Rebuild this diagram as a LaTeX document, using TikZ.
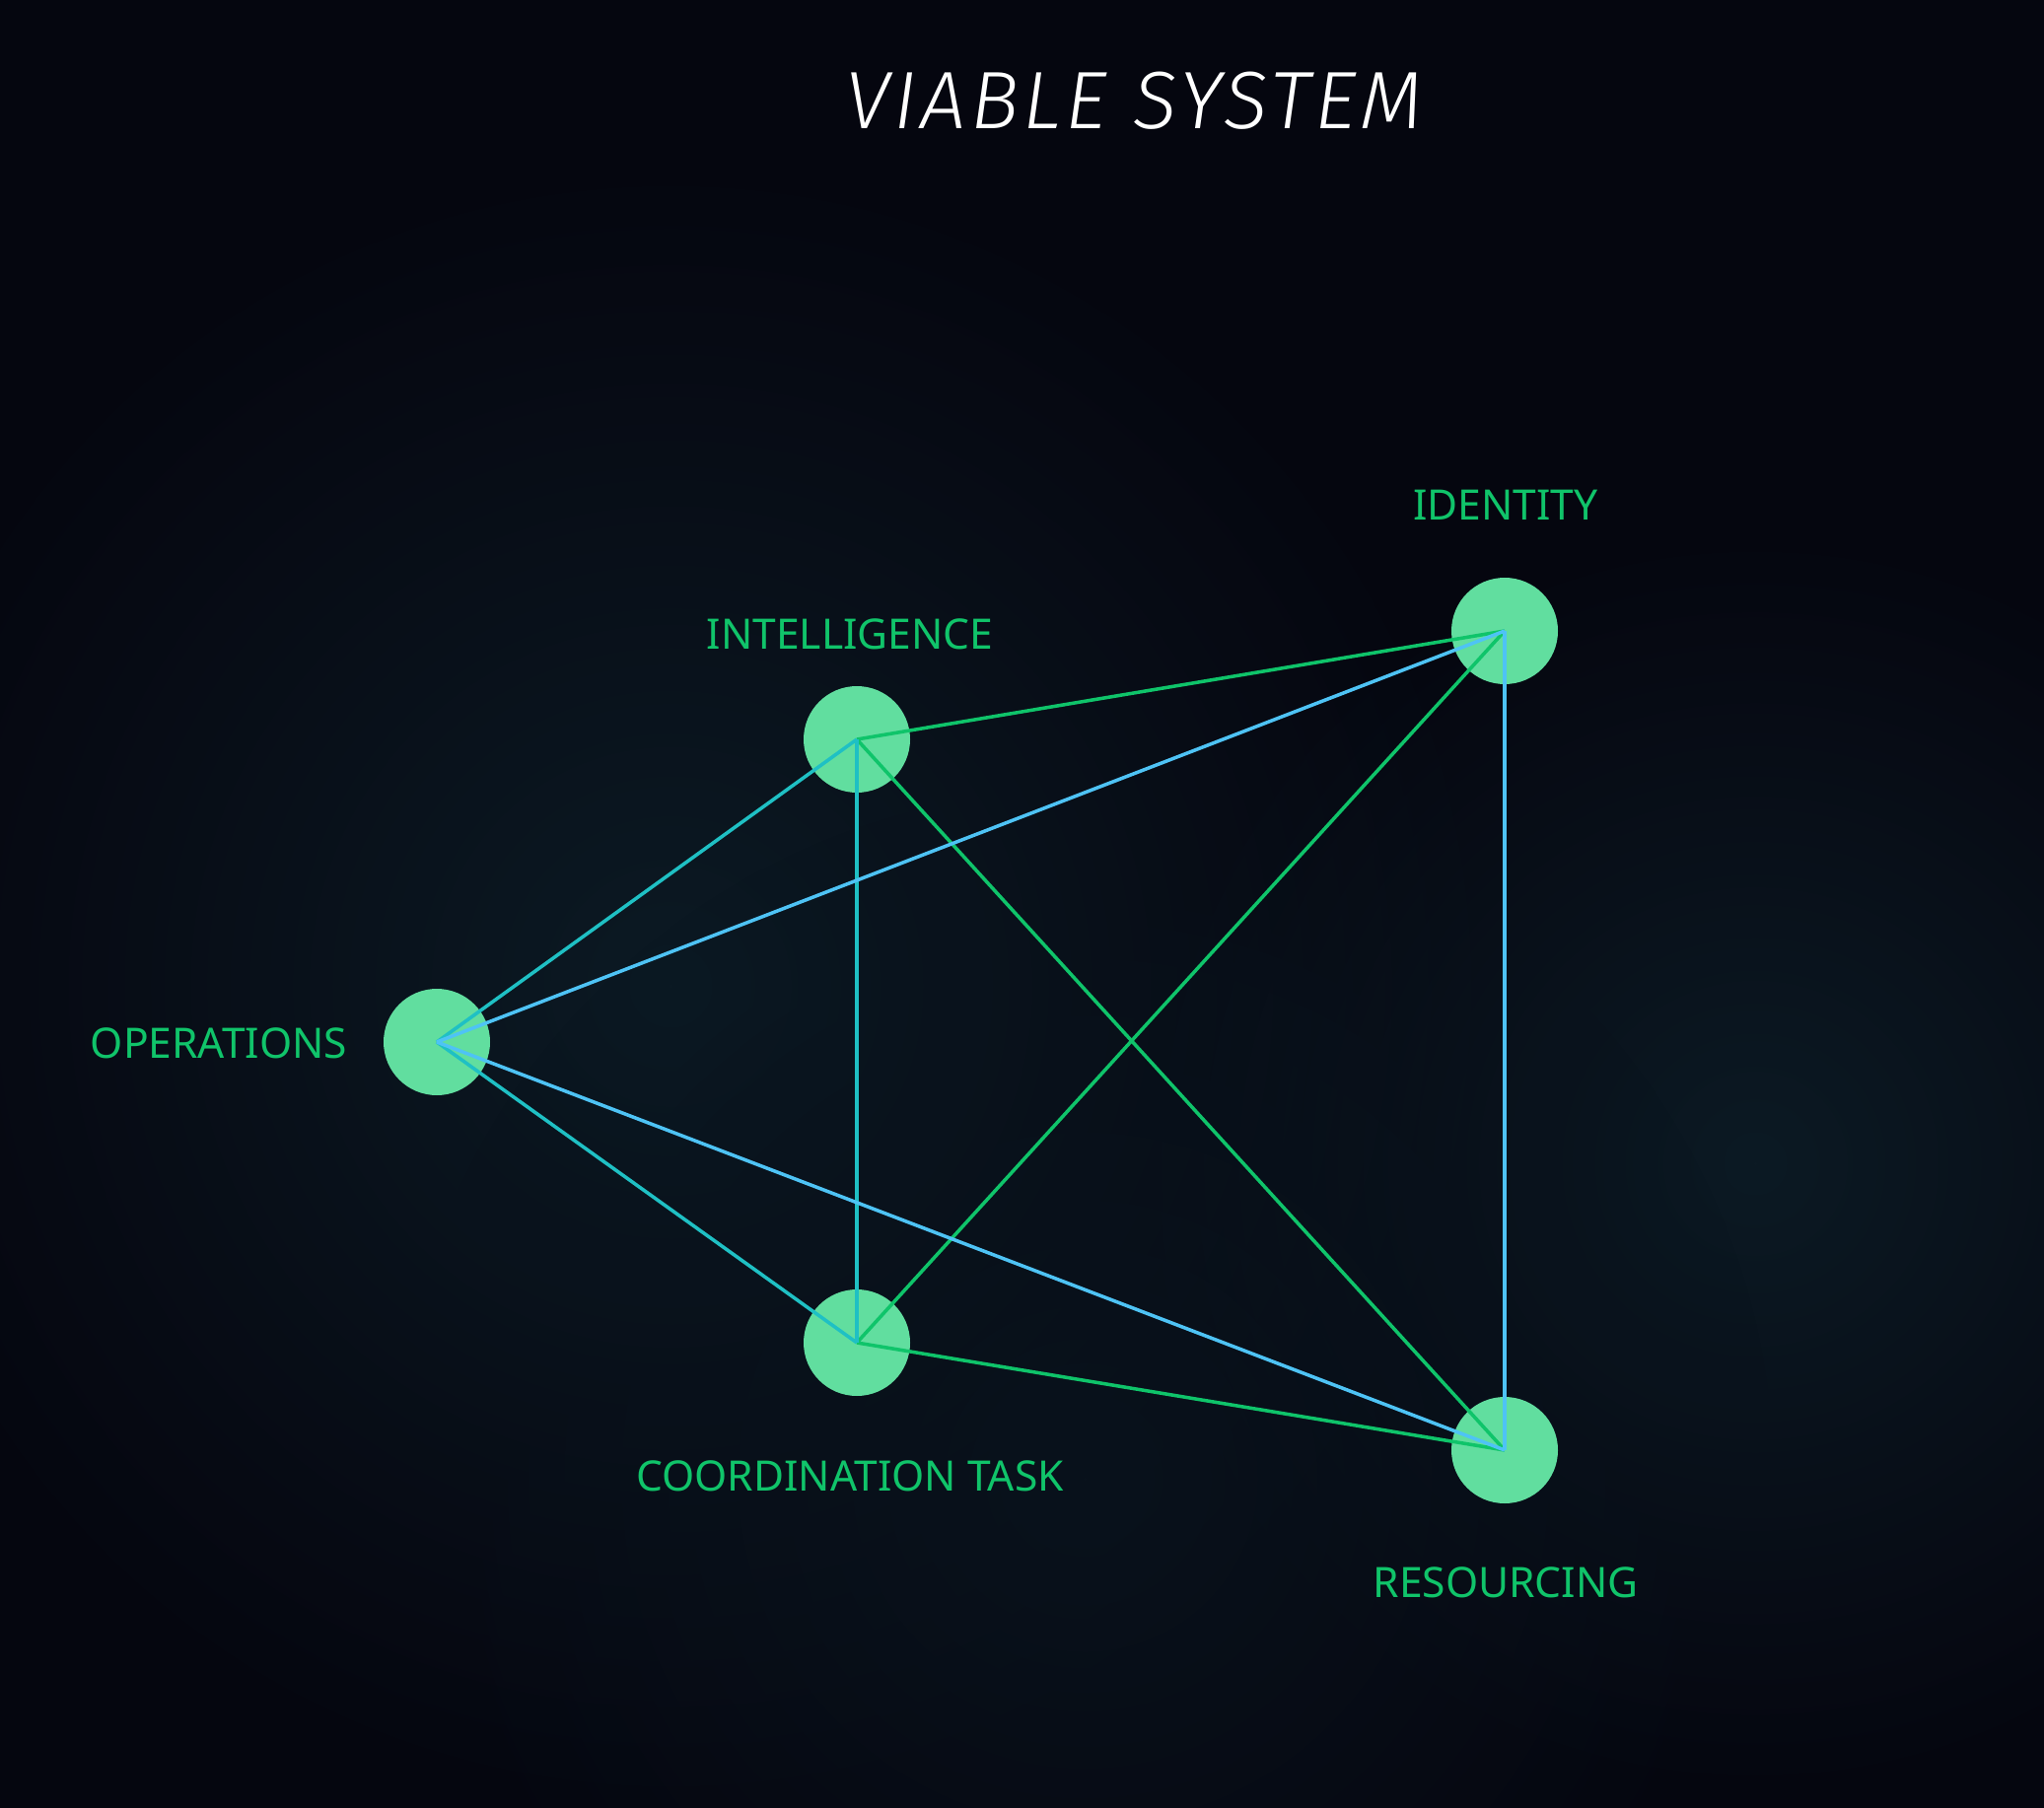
\documentclass[tikz,border=0pt]{standalone}
\usepackage{fontspec}
\usetikzlibrary{fadings}
\setmainfont{Noto Sans}
\newfontfamily\titlefont{Fira Sans}[UprightFont={* Light Italic}, LetterSpace=5]
\definecolor{bg}{HTML}{05060F}
\definecolor{glow}{HTML}{0C1A24}
\definecolor{nodefill}{HTML}{61DE9F}
\definecolor{lblgreen}{HTML}{10C46A}
\definecolor{lgreen}{HTML}{0FC46A}
\definecolor{lteal}{HTML}{1FC0C4}
\definecolor{lblue}{HTML}{4EC3F5}
\tikzfading[name=radfade, inner color=transparent!0, outer color=transparent!100]
\tikzset{
  dot/.style={circle, fill=nodefill, minimum size=108*0.01cm, inner sep=0pt},
  lbl/.style={text=lblgreen, font=\fontsize{12.1}{14}\selectfont, inner sep=0pt},
  edge/.style={line width=1pt},
  eg/.style={edge, draw=lgreen},
  et/.style={edge, draw=lteal},
  eb/.style={edge, draw=lblue},
}
\begin{document}
\begin{tikzpicture}[x=0.01cm,y=-0.01cm]
\fill[bg] (0,0) rectangle (2073,1834);
\useasboundingbox (0,0) rectangle (2073,1834);
\begin{scope}
\clip (0,0) rectangle (2073,1834);
\fill[glow, path fading=radfade] (680,1000) circle (850);
\fill[glow, path fading=radfade] (1780,1180) circle (650);
\fill[glow!60!bg, path fading=radfade] (1100,1500) circle (700);
\end{scope}

\node[text=white, font=\titlefont\fontsize{23.5}{28}\selectfont, inner sep=0pt] (title) at (1150,102) {VIABLE SYSTEM};

\node[dot] (int) at (869,750) {};
\node[dot] (ide) at (1526,640) {};
\node[dot] (ope) at (443,1057) {};
\node[dot] (coo) at (869,1362) {};
\node[dot] (res) at (1526,1471) {};

\draw[eg] (int.center) -- (ide.center);
\draw[eg] (int.center) -- (res.center);
\draw[eg] (coo.center) -- (ide.center);
\draw[eg] (coo.center) -- (res.center);
\draw[et] (ope.center) -- (int.center);
\draw[et] (ope.center) -- (coo.center);
\draw[et] (int.center) -- (coo.center);
\draw[eb] (ope.center) -- (ide.center);
\draw[eb] (ope.center) -- (res.center);
\draw[eb] (ide.center) -- (res.center);

\node[lbl] (lint) at (862,643) {INTELLIGENCE};
\node[lbl] (lide) at (1527,512) {IDENTITY};
\node[lbl] (lope) at (222,1058) {OPERATIONS};
\node[lbl] (lcoo) at (862,1497) {COORDINATION TASK};
\node[lbl] (lres) at (1527,1605) {RESOURCING};
\end{tikzpicture}
\end{document}
